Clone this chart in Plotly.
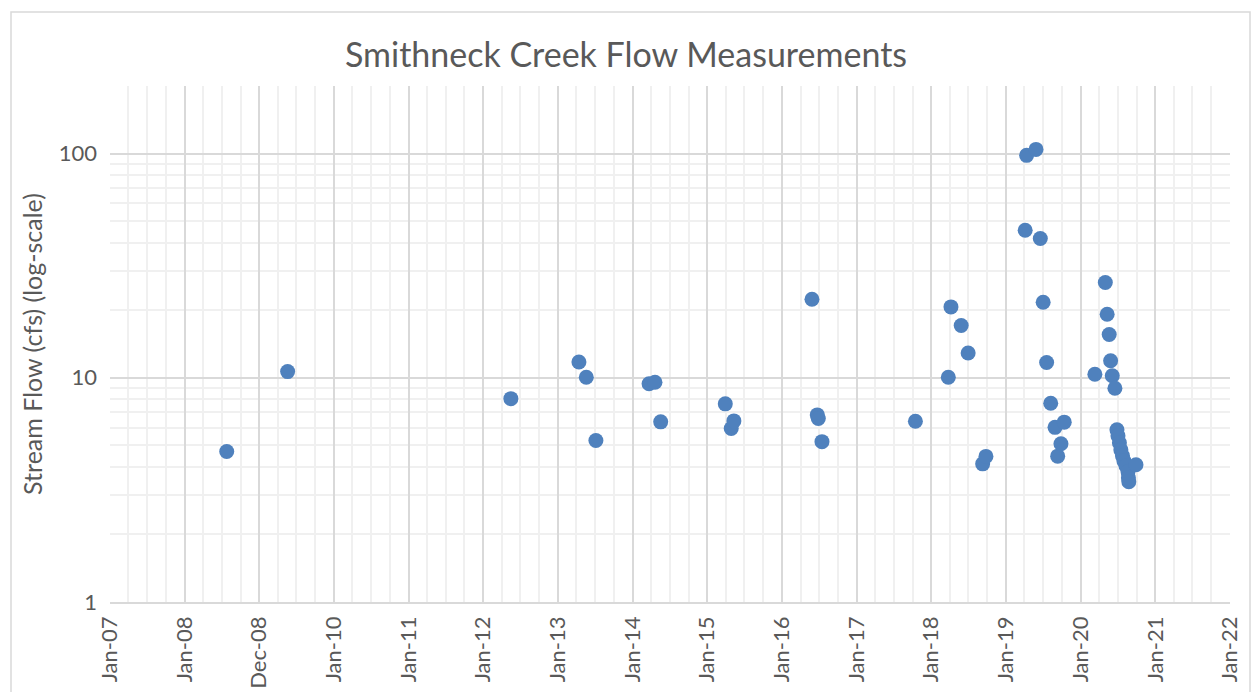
import plotly.graph_objects as go

dates = [
    "2008-07-25", "2009-05-19", "2012-05-15",
    "2013-04-13", "2013-05-19", "2013-07-05",
    "2014-03-22", "2014-04-20", "2014-05-18",
    "2015-03-30", "2015-04-28", "2015-05-11",
    "2016-05-27", "2016-06-22", "2016-06-27", "2016-07-15",
    "2017-10-15",
    "2018-03-25", "2018-04-07", "2018-05-27", "2018-06-30", "2018-09-09", "2018-09-25",
    "2019-04-05", "2019-04-12", "2019-05-28", "2019-06-18", "2019-07-02", "2019-07-19",
    "2019-08-08", "2019-08-29", "2019-09-11", "2019-09-27", "2019-10-13",
    "2020-03-11", "2020-05-01", "2020-05-10", "2020-05-20", "2020-05-27", "2020-06-04",
    "2020-06-17", "2020-06-27", "2020-07-02", "2020-07-09", "2020-07-16", "2020-07-24",
    "2020-07-31", "2020-08-10", "2020-08-20", "2020-08-22", "2020-08-24", "2020-09-28",
]
flow_cfs = [
    4.69, 10.65, 8.07,
    11.76, 10.05, 5.25,
    9.41, 9.55, 6.36,
    7.65, 5.94, 6.42,
    22.4, 6.83, 6.58, 5.19,
    6.40,
    10.05, 20.7, 17.1, 12.9, 4.13, 4.46,
    45.5, 98.1, 104.3, 41.8, 21.7, 11.7,
    7.70, 6.01, 4.47, 5.08, 6.34,
    10.37, 26.6, 19.2, 15.6, 11.9, 10.2,
    8.98, 5.86, 5.51, 5.13, 4.77, 4.49,
    4.26, 4.05, 3.81, 3.58, 3.44, 4.09,
]

x_tick_dates = ["2007-01-01", "2008-01-01", "2008-12-31", "2010-01-01", "2011-01-01",
                "2012-01-01", "2013-01-01", "2014-01-01", "2015-01-01", "2016-01-01",
                "2017-01-01", "2018-01-01", "2019-01-01", "2020-01-01", "2021-01-01",
                "2022-01-01"]
x_tick_labels = ["Jan-07", "Jan-08", "Dec-08", "Jan-10", "Jan-11", "Jan-12", "Jan-13",
                 "Jan-14", "Jan-15", "Jan-16", "Jan-17", "Jan-18", "Jan-19", "Jan-20",
                 "Jan-21", "Jan-22"]
y_tick_vals = [1, 10, 100]
y_tick_labels = ["1", "10", "100"]

title_text = "Smithneck Creek Flow Measurements"
y_title = "Stream Flow (cfs) (log-scale)"

TEXT = "#595959"
FONT = "Lato"

fig = go.Figure()
fig.add_trace(go.Scatter(
    x=dates, y=flow_cfs, mode="markers",
    marker=dict(size=15, color="#4f81bd", line=dict(width=0)),
    showlegend=False,
))

fig.update_layout(
    width=1252, height=692,
    margin=dict(l=110, r=22, t=86, b=90, autoexpand=False),
    paper_bgcolor="white", plot_bgcolor="white",
    title=dict(text=title_text, x=0.5, xanchor="center", y=1 - 55 / 692, yanchor="middle",
               font=dict(family=FONT, size=34, color=TEXT)),
    font=dict(family=FONT, color=TEXT),
    shapes=[dict(type="rect", xref="paper", yref="paper",
                 x0=-99 / 1120, x1=1140 / 1120, y0=-200 / 516, y1=(516 + 74) / 516,
                 line=dict(color="#d9d9d9", width=1.5), fillcolor="rgba(0,0,0,0)", layer="below")],
)

fig.update_xaxes(
    type="date", range=["2007-01-01", "2022-01-01"],
    tickmode="array", tickvals=x_tick_dates, ticktext=x_tick_labels,
    tickangle=-90, tickfont=dict(size=22, color=TEXT, family=FONT),
    showgrid=True, gridcolor="#d9d9d9", gridwidth=1.5,
    minor=dict(dtick="M3", tick0="2007-01-01", showgrid=True, gridcolor="#f0f0f0", gridwidth=1.5),
    showline=True, linecolor="#d9d9d9", linewidth=1.5,
    ticks="", zeroline=False, fixedrange=True, automargin=False, ticklabelstandoff=4,
)
fig.update_yaxes(
    type="log", range=[0, 2.30103],
    tickmode="array", tickvals=y_tick_vals, ticktext=y_tick_labels,
    tickfont=dict(size=22, color=TEXT, family=FONT),
    showgrid=True, gridcolor="#d9d9d9", gridwidth=1.5,
    minor=dict(dtick="D1", showgrid=True, gridcolor="#f0f0f0", gridwidth=1.5),
    showline=False, ticks="", ticklabelstandoff=12,
    title=dict(text=y_title, font=dict(size=25, color=TEXT, family=FONT), standoff=8),
    zeroline=False, fixedrange=True, automargin=False,
)

fig.write_html("out.html", config={"displayModeBar": False},
               post_script="document.body.style.margin='0px';")
